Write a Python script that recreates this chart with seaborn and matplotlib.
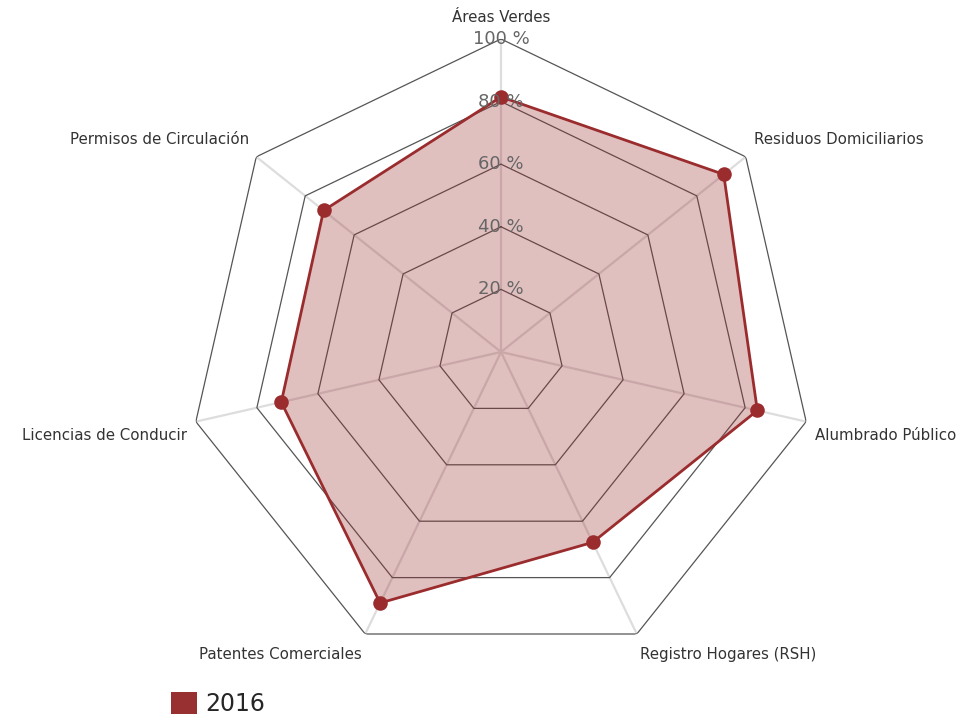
import numpy as np
import pandas as pd
import matplotlib
matplotlib.use("Agg")
import matplotlib.pyplot as plt
from matplotlib.patches import Patch
import seaborn as sns

# Data
categories = ["Áreas Verdes", "Residuos Domiciliarios", "Alumbrado Público",
              "Registro Hogares (RSH)", "Patentes Comerciales",
              "Licencias de Conducir", "Permisos de Circulación"]
values_2016 = [81.5, 91, 84, 67.5, 89, 72, 72.5]
grid_levels = [20, 40, 60, 80, 100]
grid_labels = ["20 %", "40 %", "60 %", "80 %", "100 %"]
series_name = "2016"

line_color = "#9b2c2e"

sns.set_style("white")
plt.rcParams["font.family"] = ["DejaVu Sans"]

n = len(categories)
angles = np.linspace(0, 2 * np.pi, n, endpoint=False)
df = pd.DataFrame({"angle": angles, "value": values_2016, "category": categories})

fig = plt.figure(figsize=(9.7, 7.19), dpi=100)
ax = fig.add_axes([0.1938, 0.0751, 0.6454, 0.8707], projection="polar")
ax.set_theta_offset(np.pi / 2)
ax.set_theta_direction(-1)
ax.set_ylim(0, 100)
ax.grid(False)
ax.spines["polar"].set_visible(False)
ax.set_xticks([])
ax.set_yticks([])

closed = np.append(angles, angles[0])

# spokes
for a in angles:
    ax.plot([a, a], [0, 100], color="#dddddd", lw=1.6, zorder=1)

# polygon grid
for lvl in grid_levels:
    ax.plot(closed, [lvl] * (n + 1), color="#555555", lw=0.9, zorder=2)

# series
vals_closed = np.append(df["value"].values, df["value"].values[0])
ax.fill(closed, vals_closed, color=line_color, alpha=0.3, lw=0, zorder=3)
ax.plot(closed, vals_closed, color=line_color, lw=2, zorder=4)
sns.scatterplot(data=df, x="angle", y="value", ax=ax, color=line_color,
                s=110, edgecolor=line_color, linewidth=0, zorder=5, legend=False)
ax.set_xlabel("")
ax.set_ylabel("")

# radial tick labels
for lvl, lab in zip(grid_levels, grid_labels):
    ax.text(0, lvl, lab, ha="center", va="center", fontsize=13,
            color="#666666", zorder=6)

# category labels
offsets = [(0, 14), (8, 10), (9, -6), (3, -13), (-3, -13), (-9, -6), (-7, 10)]
for a, cat, off in zip(angles, categories, offsets):
    s, c = np.sin(a), np.cos(a)
    ha = "center" if abs(s) < 0.1 else ("left" if s > 0 else "right")
    va = "bottom" if c > 0 else "top"
    ax.annotate(cat, xy=(a, 100), xytext=(off[0] * 0.72, off[1] * 0.72),
                textcoords="offset points", ha=ha, va=va, fontsize=10.8,
                color="#333333", annotation_clip=False)

handle = Patch(facecolor="#983032", edgecolor="none", label=series_name)
fig.legend(handles=[handle], loc="lower left", bbox_to_anchor=(0.176, 0.004),
           frameon=False, fontsize=17, handlelength=1.1, handleheight=1.1,
           handletextpad=0.35, borderaxespad=0, borderpad=0)

fig.savefig("out.png", dpi=100)
